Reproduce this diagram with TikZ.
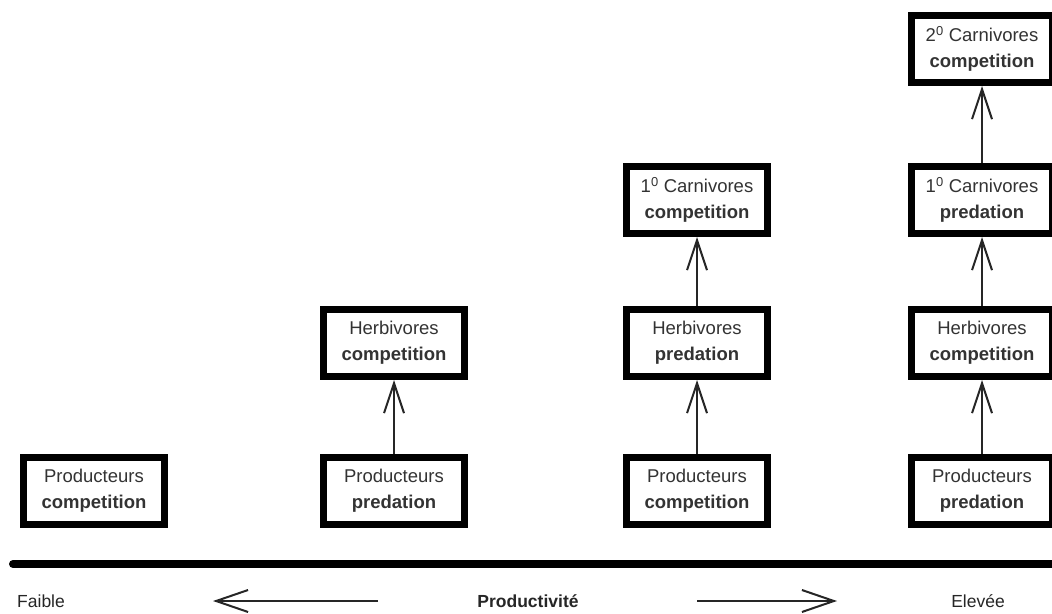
\documentclass[tikz,border=0pt]{standalone}
\usepackage{fontspec}
\setmainfont{Liberation Sans}
\usetikzlibrary{arrows.meta}
\tikzset{
  level/.style={draw=black, line width=7pt, fill=white, minimum width=141pt, minimum height=67pt,
    inner sep=0pt, align=center, text=black!80, font=\fontsize{18.5}{26}\selectfont},
  link/.style={draw=black!85, line width=2pt, -{Straight Barb[length=30pt,width=20pt,line width=2pt]}},
  prodarrow/.style={draw=black!85, line width=2pt, -{Straight Barb[length=32pt,width=22pt,line width=2pt]}},
  lbl/.style={text=black!85, font=\fontsize{17.5}{21}\selectfont, inner sep=0pt}
}
\begin{document}
\begin{tikzpicture}[x=1pt,y=-1pt]
\useasboundingbox (0,0) rectangle (1052,613);
% column 1
\node[level] (p1) at (94,491) {Producteurs\\\textbf{competition}};
% column 2
\node[level] (p2) at (394,491) {Producteurs\\\textbf{predation}};
\node[level] (h2) at (394,343) {Herbivores\\\textbf{competition}};
% column 3
\node[level] (p3) at (697,491) {Producteurs\\\textbf{competition}};
\node[level] (h3) at (697,343) {Herbivores\\\textbf{predation}};
\node[level] (c3) at (697,200) {1\textsuperscript{0} Carnivores\\\textbf{competition}};
% column 4
\node[level] (p4) at (982,491) {Producteurs\\\textbf{predation}};
\node[level] (h4) at (982,343) {Herbivores\\\textbf{competition}};
\node[level] (c4) at (982,200) {1\textsuperscript{0} Carnivores\\\textbf{predation}};
\node[level] (d4) at (982,49) {2\textsuperscript{0} Carnivores\\\textbf{competition}};
% links
\draw[link] (p2.north) -- (h2.south);
\draw[link] (p3.north) -- (h3.south);
\draw[link] (h3.north) -- (c3.south);
\draw[link] (p4.north) -- (h4.south);
\draw[link] (h4.north) -- (c4.south);
\draw[link] (c4.north) -- (d4.south);
% axis
\coordinate (axL) at (13,564);
\coordinate (axR) at (1060,564);
\draw[line width=8pt, line cap=round] (axL) -- (axR);
% labels
\node[lbl, anchor=west] (faible) at (17,601) {Faible};
\node[lbl] (prod) at (528,601) {\textbf{Productivité}};
\node[lbl] (elev) at (978,601) {Elevée};
\coordinate (la) at (378,601);
\coordinate (lb) at (213,601);
\coordinate (ra) at (697,601);
\coordinate (rb) at (837,601);
\draw[prodarrow] (la) -- (lb);
\draw[prodarrow] (ra) -- (rb);
\end{tikzpicture}
\end{document}
